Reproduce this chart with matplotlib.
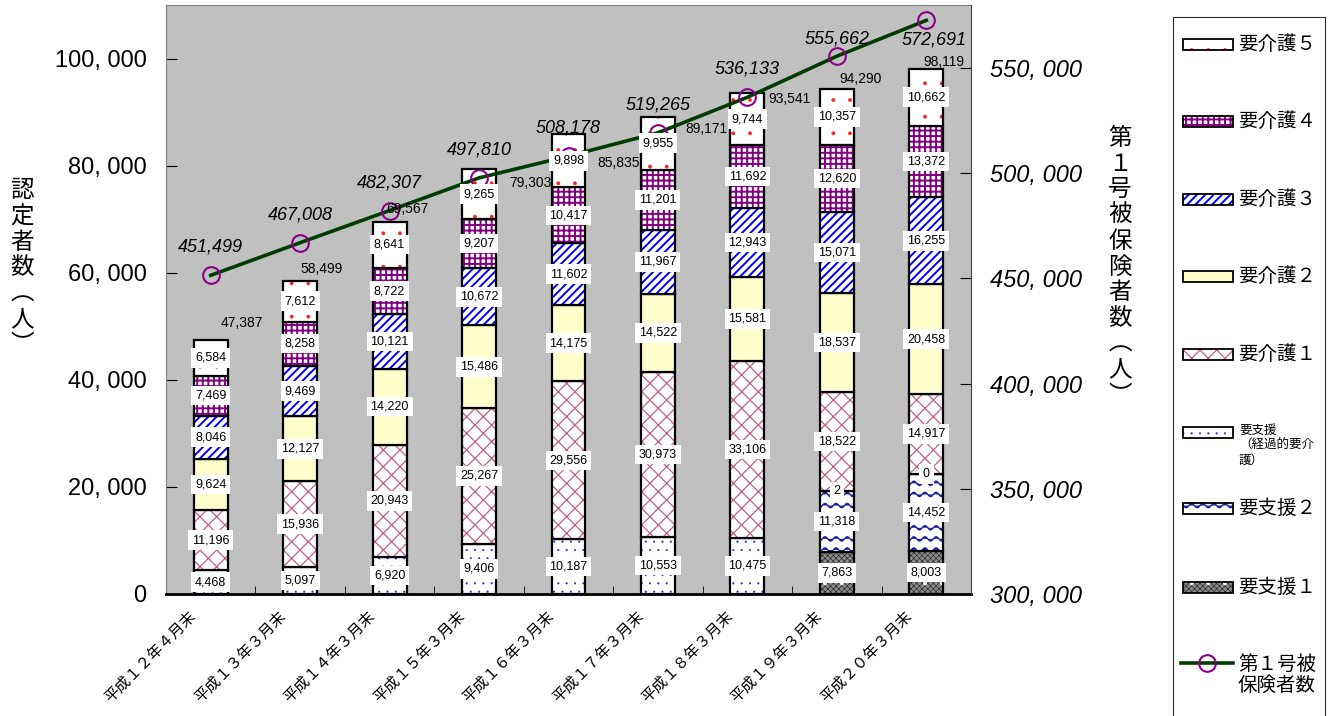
import warnings
import numpy as np
import matplotlib
matplotlib.use('Agg')
import matplotlib.pyplot as plt
import matplotlib.hatch as mhatch
from matplotlib.path import Path
from matplotlib.patches import Rectangle
from matplotlib.lines import Line2D
from matplotlib.transforms import ScaledTranslation

warnings.filterwarnings('ignore')

# ---- data ----
cats = ['平成１２年４月末', '平成１３年３月末', '平成１４年３月末', '平成１５年３月末',
        '平成１６年３月末', '平成１７年３月末', '平成１８年３月末', '平成１９年３月末',
        '平成２０年３月末']
nan = np.nan
shien1 = [nan, nan, nan, nan, nan, nan, nan, 7863, 8003]
shien2 = [nan, nan, nan, nan, nan, nan, nan, 11318, 14452]
keika = [4468, 5097, 6920, 9406, 10187, 10553, 10475, 2, 0]
kaigo1 = [11196, 15936, 20943, 25267, 29556, 30973, 33106, 18522, 14917]
kaigo2 = [9624, 12127, 14220, 15486, 14175, 14522, 15581, 18537, 20458]
kaigo3 = [8046, 9469, 10121, 10672, 11602, 11967, 12943, 15071, 16255]
kaigo4 = [7469, 8258, 8722, 9207, 10417, 11201, 11692, 12620, 13372]
kaigo5 = [6584, 7612, 8641, 9265, 9898, 9955, 9744, 10357, 10662]
totals = [47387, 58499, 69567, 79303, 85835, 89171, 93541, 94290, 98119]
insured = [451499, 467008, 482307, 497810, 508178, 519265, 536133, 555662, 572691]

# label offsets in pixels (dx, dy up)
total_off = [(31, 17), (21, 12), (18, 13), (51, -14), (50, -29), (48, -12), (42, -6), (24, 10), (18, 7)]
line_off = [(0, 28)] * 7 + [(0, 17), (8, -20)]

CJK = 'Noto Sans CJK JP'
NUM = 'Liberation Sans'
plt.rcParams['font.family'] = [NUM, CJK, 'DejaVu Sans']


# wavy hatch pattern ('~')
class WaveHatch(mhatch.HatchPatternBase):
    def __init__(self, hatch, density):
        self.num_lines = int(hatch.count('~') * density * 0.75)
        self.num_pts = 73
        self.num_vertices = self.num_lines * self.num_pts

    def set_vertices_and_codes(self, vertices, codes):
        t = np.linspace(0, 1, self.num_pts)
        for i in range(self.num_lines):
            s = slice(i * self.num_pts, (i + 1) * self.num_pts)
            vertices[s, 0] = t
            vertices[s, 1] = (i + 0.5) / self.num_lines + 0.022 * np.sin(2 * np.pi * 9 * t)
            codes[s] = Path.LINETO
            codes[i * self.num_pts] = Path.MOVETO


mhatch._hatch_types.append(WaveHatch)

styles = {
    '要支援１': dict(face='#8c8c8c', hc='#2a2a2a', hatch='xxxxxx', hlw=0.5, dots='white'),
    '要支援２': dict(face='white', hc='#2020a0', hatch='~~', hlw=1.0),
    '要支援（経過的要介護）': dict(face='white', hc='#2a2ad0', hatch='..', hlw=0.3),
    '要介護１': dict(face='white', hc='#c06088', hatch='xx', hlw=0.9),
    '要介護２': dict(face='#ffffcc', hc='none', hatch=None, hlw=1.0),
    '要介護３': dict(face='white', hc='#0000ff', hatch='////', hlw=1.4),
    '要介護４': dict(face='white', hc='#800080', hatch='+++', hlw=1.4),
    '要介護５': dict(face='white', hc='#ff2020', hatch='.', hlw=0.3),
}
layers = [('要支援１', shien1), ('要支援２', shien2), ('要支援（経過的要介護）', keika),
          ('要介護１', kaigo1), ('要介護２', kaigo2), ('要介護３', kaigo3),
          ('要介護４', kaigo4), ('要介護５', kaigo5)]


def set_hlw(patches, lw):
    for p in patches:
        if hasattr(p, 'set_hatch_linewidth'):
            p.set_hatch_linewidth(lw)


def hatched_bars(a, xs, hs, bs, st, w):
    with plt.rc_context({'hatch.linewidth': st['hlw']}):
        b = a.bar(xs, hs, w, bottom=bs, color=st['face'], edgecolor=st['hc'],
                  hatch=st['hatch'], linewidth=0)
        set_hlw(b, st['hlw'])
    if st.get('dots'):
        with plt.rc_context({'hatch.linewidth': 0.5}):
            d = a.bar(xs, hs, w, bottom=bs, fill=False, edgecolor=st['dots'], hatch='.', linewidth=0)
            set_hlw(d, 0.5)
    a.bar(xs, hs, w, bottom=bs, fill=False, edgecolor='black', linewidth=1.6)


def hatched_rect(a, x0, y0, w, h, st):
    with plt.rc_context({'hatch.linewidth': st['hlw']}):
        r = Rectangle((x0, y0), w, h, facecolor=st['face'], edgecolor=st['hc'],
                      hatch=st['hatch'], linewidth=0)
        set_hlw([r], st['hlw'])
        a.add_patch(r)
    if st.get('dots'):
        with plt.rc_context({'hatch.linewidth': 0.5}):
            d = Rectangle((x0, y0), w, h, fill=False, edgecolor=st['dots'], hatch='.', linewidth=0)
            set_hlw([d], 0.5)
            a.add_patch(d)
    a.add_patch(Rectangle((x0, y0), w, h, fill=False, edgecolor='black', linewidth=1.3))


W, H = 1338, 716
fig = plt.figure(figsize=(W / 100, H / 100), dpi=100)
fig.patch.set_facecolor('white')

ax = fig.add_axes([166 / W, 122 / H, 805 / W, 589 / H])
ax.set_facecolor('#c0c0c0')
ax2 = ax.twinx()
ax3 = ax.twinx()

x = np.arange(len(cats))
bw = 0.38
bottom = np.zeros(len(cats))
for name, vals in layers:
    v = np.array(vals, dtype=float)
    ok = ~np.isnan(v)
    xs, hs, bs = x[ok], v[ok], bottom[ok]
    hatched_bars(ax, xs, hs, bs, styles[name], bw)
    for xi, hi, bi in zip(xs, hs, bs):
        ax3.text(xi, bi + hi / 2, f'{int(hi):,}', ha='center', va='center', fontsize=9,
                 family=NUM, bbox=dict(boxstyle='square,pad=0.3', fc='white', ec='none'))
    bottom[ok] += hs

for xi, t, (dx, dy) in zip(x, totals, total_off):
    ax3.annotate(f'{t:,}', (xi, t), xytext=(dx, dy), textcoords='offset pixels',
                 ha='center', va='center', fontsize=10, family=NUM)

# line on right axis
ax2.plot(x, insured, color='#003c00', linewidth=2.6, marker='o', markersize=12,
         markerfacecolor='none', markeredgecolor='#8b008b', markeredgewidth=1.5)
for xi, v, (dx, dy) in zip(x, insured, line_off):
    ax2.annotate(f'{v:,}', (xi, v), xytext=(dx, dy), textcoords='offset pixels',
                 ha='center', va='center', fontsize=13, style='italic', family=NUM)

ax.set_xlim(-0.5, len(cats) - 0.5)
ax.set_ylim(0, 110000)
ax2.set_ylim(300000, 580000)
ax3.set_ylim(0, 110000)
ax3.set_axis_off()

# left axis
lt = np.arange(0, 100001, 20000)
ax.set_yticks(lt, [f'{v:,}'.replace(',', ', ') for v in lt])
ax.tick_params(axis='y', direction='in', length=8, pad=14, labelsize=17, right=False)
# right axis
rt = np.arange(300000, 550001, 50000)
ax2.set_yticks(rt, [f'{v:,}'.replace(',', ', ') for v in rt])
ax2.tick_params(axis='y', direction='in', length=8, pad=14, labelsize=17)
for lab in ax2.get_yticklabels():
    lab.set_style('italic')

# x axis
ax.set_xticks(x, cats, rotation=45, ha='right', rotation_mode='anchor', family=CJK, fontsize=11)
ax.set_xticks(np.arange(len(cats) + 1) - 0.5, minor=True)
ax.tick_params(axis='x', which='major', length=0, pad=10)
ax.tick_params(axis='x', which='minor', direction='in', length=6)
for lab in ax.get_xticklabels():
    lab.set_transform(lab.get_transform() + ScaledTranslation(-0.23, 0, fig.dpi_scale_trans))

for s in ['left', 'top']:
    ax.spines[s].set_color('#808080')
ax.spines['right'].set_visible(False)
ax.spines['bottom'].set_linewidth(2)
for s in ['left', 'top', 'bottom']:
    ax2.spines[s].set_visible(False)
ax2.spines['right'].set_color('#404040')

# axis titles (vertical)
fig.text(22 / W, 1 - 268 / H, '\n'.join('認定者数︵人︶'), ha='center', va='center',
         fontsize=17, family=CJK, linespacing=1.15)
fig.text(1120 / W, 1 - 267 / H, '\n'.join('第１号被保険者数︵人︶'), ha='center', va='center',
         fontsize=17, family=CJK, linespacing=1.15)

# legend
lax = fig.add_axes([1173 / W, 0, 152 / W, 699 / H])
lax.set_xlim(0, 152)
lax.set_ylim(699, 0)
lax.set_xticks([])
lax.set_yticks([])
lax.spines['bottom'].set_visible(False)
for s in ['left', 'top', 'right']:
    lax.spines[s].set_color('#303030')
leg_items = ['要介護５', '要介護４', '要介護３', '要介護２', '要介護１',
             '要支援（経過的要介護）', '要支援２', '要支援１']
leg_y = [27, 104, 182, 259, 337, 415, 491, 570]
for name, y in zip(leg_items, leg_y):
    hatched_rect(lax, 10, y - 5.5, 50, 11, styles[name])
    if name.startswith('要支援（'):
        lax.text(66, y - 8, '要支援\n（経過的要介\n護）', va='top', ha='left', fontsize=9,
                 family=CJK, linespacing=1.2)
    else:
        lax.text(65, y, name, va='center', ha='left', fontsize=14, family=CJK)
lax.add_line(Line2D([8, 60], [646, 646], color='#003c00', linewidth=2.6))
lax.add_line(Line2D([34], [646], marker='o', markersize=12, markerfacecolor='none',
                    markeredgecolor='#8b008b', markeredgewidth=1.5))
lax.text(65, 658, '第１号被\n保険者数', va='center', ha='left', fontsize=14, family=CJK,
         linespacing=1.0)

fig.savefig('out.png', dpi=100)
